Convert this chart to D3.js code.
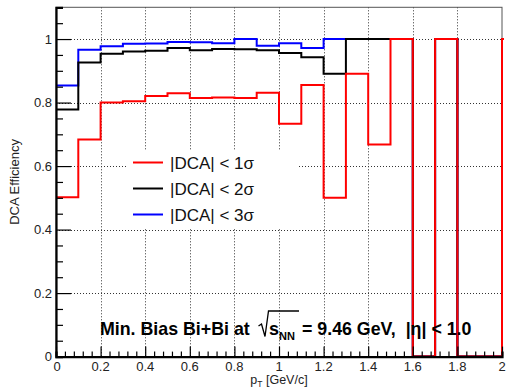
<!DOCTYPE html>
<html>
<head>
  <meta charset="utf-8">
  <script src="https://cdn.jsdelivr.net/npm/d3@7"></script>
  <style>
    body { margin: 0; background: #fff; }
    text { font-family: "Liberation Sans", Arial, Helvetica, sans-serif; white-space: pre; }
  </style>
</head>
<body>
  <svg width="509" height="389" id="mainsvg"></svg>
  <script>
    // bin edges 0..2 in steps of 0.1
    const binEdges = d3.range(0, 2.0001, 0.1);
    const eff1s = [0.502, 0.684, 0.800, 0.804, 0.821, 0.829, 0.814, 0.816, 0.814, 0.831,
                   0.733, 0.855, 0.500, 0.891, 0.668, 1.0, 0, 1.0, 0, 0];
    const eff2s = [0.778, 0.926, 0.954, 0.961, 0.963, 0.972, 0.965, 0.969, 0.968, 0.965,
                   0.956, 0.943, 0.891, 1.0, 1.0, 1.0, 0, 1.0, 0, 0];
    const eff3s = [0.854, 0.966, 0.977, 0.985, 0.986, 0.991, 0.990, 0.987, 1.0, 0.979,
                   0.987, 0.972, 1.0, 1.0, 1.0, 1.0, 0, 1.0, 0, 0];
    // overflow content (only its rising edge at pT = 2 is visible)
    const overflow = { s1: 1.0, s2: 1.0, s3: 1.0 };
    const legendLabels = ['|DCA| < 1σ', '|DCA| < 2σ', '|DCA| < 3σ'];
    const xTicks = [0, 0.2, 0.4, 0.6, 0.8, 1, 1.2, 1.4, 1.6, 1.8, 2];
    const yTicks = [0, 0.2, 0.4, 0.6, 0.8, 1];

    const svg = d3.select('#mainsvg');
    const frame = { left: 56, right: 502, top: 7.3, bottom: 356.6 };

    const xScale = d3.scaleLinear().domain([0, 2]).range([frame.left, frame.right]);
    const yScale = d3.scaleLinear().domain([0, 1.1]).range([frame.bottom, frame.top]);

    svg.append('defs').append('clipPath').attr('id', 'clip')
      .append('rect')
      .attr('x', frame.left).attr('y', frame.top - 2)
      .attr('width', frame.right - frame.left + 2).attr('height', frame.bottom - frame.top + 2);

    // dotted grid
    const grid = svg.append('g').attr('stroke', '#333').attr('stroke-width', 1)
      .attr('stroke-dasharray', '1,2');
    grid.selectAll('.gx').data(xTicks.slice(1, -1)).join('line')
      .attr('x1', d => Math.round(xScale(d)) + 0.5).attr('x2', d => Math.round(xScale(d)) + 0.5)
      .attr('y1', frame.top).attr('y2', frame.bottom);
    grid.selectAll('.gy').data(yTicks.slice(1)).join('line')
      .attr('y1', d => Math.round(yScale(d)) + 0.5).attr('y2', d => Math.round(yScale(d)) + 0.5)
      .attr('x1', frame.left).attr('x2', frame.right);

    // frame
    svg.append('rect')
      .attr('x', frame.left).attr('y', frame.top)
      .attr('width', frame.right - frame.left).attr('height', frame.bottom - frame.top)
      .attr('fill', 'none').attr('stroke', '#555').attr('stroke-width', 1);

    // histogram outline, ROOT style
    const histPoints = function (vals, over) {
      const pts = [[binEdges[0] - 0.05, 0], [binEdges[0], 0]];
      vals.forEach((v, i) => {
        pts.push([binEdges[i], v]);
        pts.push([binEdges[i + 1], v]);
      });
      pts.push([2, over]);
      pts.push([2.1, over]);
      return pts;
    };
    const line = d3.line().x(d => xScale(d[0])).y(d => yScale(d[1]));

    const series = [
      { vals: eff3s, over: overflow.s3, color: '#0000ff' },
      { vals: eff2s, over: overflow.s2, color: '#000000' },
      { vals: eff1s, over: overflow.s1, color: '#ff0000' }
    ];
    const hg = svg.append('g').attr('clip-path', 'url(#clip)');
    hg.selectAll('path').data(series).join('path')
      .attr('d', d => line(histPoints(d.vals, d.over)))
      .attr('fill', 'none')
      .attr('stroke', d => d.color)
      .attr('stroke-width', 2);

    // y axis
    const yAxis = d3.axisRight(yScale).tickValues(d3.range(0, 1.1001, 0.05))
      .tickSize(7).tickFormat('');
    const yg = svg.append('g').attr('transform', `translate(${frame.left},0)`).call(yAxis);
    yg.selectAll('.tick line').attr('stroke-width', 1.2)
      .attr('x2', d => (Math.abs(d * 5 - Math.round(d * 5)) < 1e-6 ? 15 : 7));
    yg.select('.domain').attr('stroke-width', 2.2);
    svg.append('g').selectAll('text').data(yTicks).join('text')
      .attr('x', 52).attr('y', d => yScale(d) + 4.5)
      .attr('text-anchor', 'end').attr('font-size', 13).attr('fill', '#222')
      .text(d => d3.format('~g')(d));

    // x axis
    const xAxis = d3.axisTop(xScale).tickValues(d3.range(0, 2.0001, 0.04))
      .tickSize(5).tickFormat('');
    const xg = svg.append('g').attr('transform', `translate(0,${frame.bottom})`).call(xAxis);
    xg.selectAll('.tick line').attr('stroke-width', 1.2)
      .attr('y2', d => (Math.abs(d * 5 - Math.round(d * 5)) < 1e-6 ? -10 : -5));
    xg.select('.domain').attr('stroke-width', 2.2);
    svg.append('g').selectAll('text').data(xTicks).join('text')
      .attr('x', d => xScale(d) + (d === 0 ? 1 : 0)).attr('y', 370.5)
      .attr('text-anchor', 'middle').attr('font-size', 13).attr('fill', '#222')
      .text(d => d3.format('~g')(d));

    // axis titles
    const xt = svg.append('text').attr('x', (frame.left + frame.right) / 2).attr('y', 384)
      .attr('text-anchor', 'middle').attr('font-size', 12.5).attr('fill', '#222');
    xt.append('tspan').text('p');
    xt.append('tspan').attr('font-size', 8.5).attr('dy', 3).text('T');
    xt.append('tspan').attr('dy', -3).text(' [GeV/c]');

    svg.append('text')
      .attr('transform', `translate(19,${(frame.top + frame.bottom) / 2}) rotate(-90)`)
      .attr('text-anchor', 'middle').attr('font-size', 13).attr('fill', '#222')
      .text('DCA Efficiency');

    // legend
    const lg = svg.append('g');
    lg.append('rect').attr('x', 127).attr('y', 150).attr('width', 171).attr('height', 78)
      .attr('fill', '#fff');
    const legendColors = ['#ff0000', '#000000', '#0000ff'];
    const items = lg.selectAll('g').data(legendLabels).join('g')
      .attr('transform', (d, i) => `translate(133,${162.5 + i * 26})`);
    items.append('line').attr('x1', 0).attr('x2', 30)
      .attr('stroke', (d, i) => legendColors[i]).attr('stroke-width', 2);
    items.append('text').attr('x', 37).attr('y', 6).attr('font-size', 17).attr('fill', '#111')
      .text(d => d);

    // annotation
    const ann = svg.append('g').attr('font-weight', 'bold').attr('fill', '#000');
    ann.append('text').attr('x', 100).attr('y', 335).attr('font-size', 17.8)
      .text('Min. Bias Bi+Bi at');
    // radical sign
    ann.append('path')
      .attr('d', 'M258.5,326 L261.5,324 L265,336.5 L268.5,311 L299,311')
      .attr('fill', 'none').attr('stroke', '#000').attr('stroke-width', 1.3);
    const sq = ann.append('text').attr('x', 269).attr('y', 335).attr('font-size', 18);
    sq.append('tspan').text('s');
    sq.append('tspan').attr('font-size', 11).attr('dy', 5).text('NN');
    ann.append('text').attr('x', 302).attr('y', 335).attr('font-size', 17.8)
      .text('= 9.46 GeV,  |η| < 1.0');
  </script>
</body>
</html>
